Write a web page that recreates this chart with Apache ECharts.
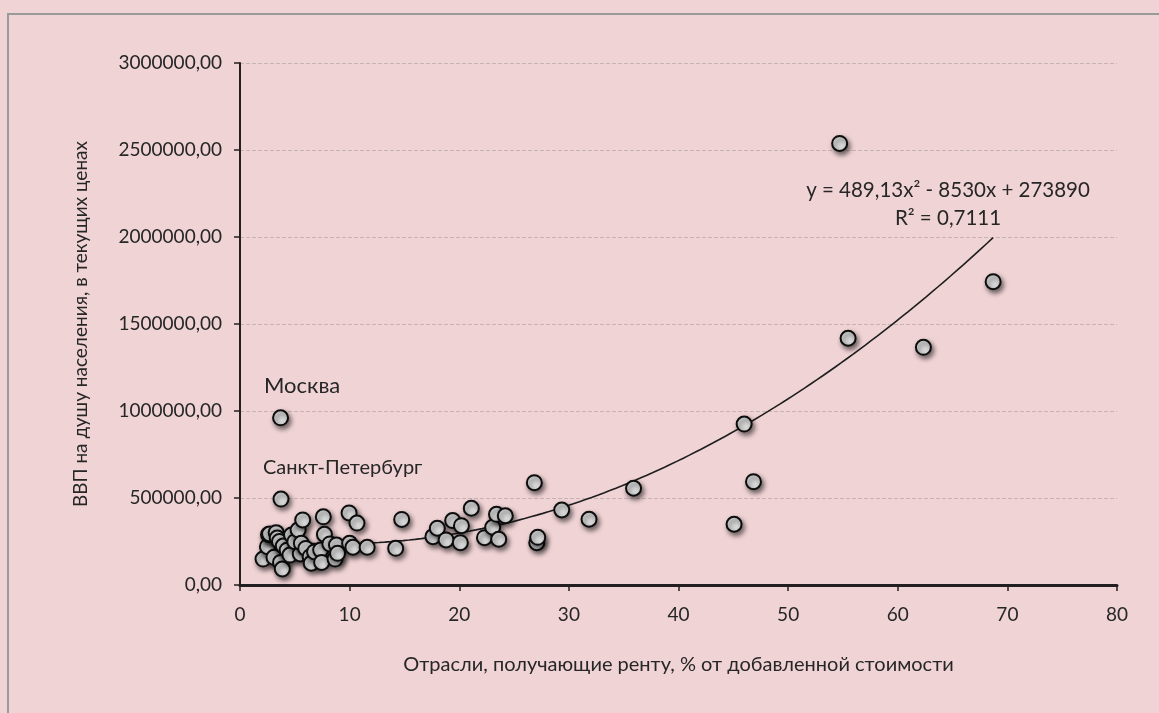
<!DOCTYPE html>
<html>
<head>
<meta charset="utf-8">
<script src="https://cdn.jsdelivr.net/npm/echarts@6/dist/echarts.min.js"></script>
<style>
  html, body { margin: 0; padding: 0; background: #f0d3d5; }
  #chart { width: 1159px; height: 713px; }
</style>
</head>
<body>
<div id="chart"></div>
<script>
// доля рентных отраслей, % (ось X)
const rentShare = [
  2.1, 2.5, 2.6, 2.7, 3.1, 3.3, 3.4, 3.6, 3.7, 3.86, 3.95, 4.3, 4.56, 4.7, 5.0, 5.3, 5.5, 5.6, 5.72,
  6.0, 6.4, 6.5, 6.8, 7.36, 7.45, 7.6, 7.7, 8.2, 8.67, 8.8, 8.9, 9.95, 10.0, 10.3, 10.67, 11.6,
  14.2, 14.75, 3.7, 3.74,
  17.6, 18.0, 18.8, 19.4, 20.2, 20.1, 21.1, 22.3, 23.05, 23.4, 24.2, 23.6, 26.85, 27.07, 27.16,
  29.35, 31.84,
  35.9, 45.07, 45.99, 46.84, 54.7, 55.47, 62.34, 68.7
]
// ВВП на душу населения (ось Y)
const grpPerCapita = [
  149000, 220000, 290000, 293000, 159000, 301000, 270000, 250000, 130000, 92000, 224000, 200000,
  172000, 287000, 249000, 316000, 178000, 240000, 374000,
  210000, 163000, 125000, 190000, 201000, 130000, 392000, 291000, 236000, 149000, 230000, 182000,
  414000, 240000, 217000, 356000, 217000,
  211000, 377000, 961000, 494000,
  278000, 326000, 259000, 370000, 341000, 243000, 441000, 272000, 332000, 406000, 398000, 263000,
  588000, 243000, 274000, 431000, 378000,
  556000, 349000, 925000, 594000, 2538000, 1418000, 1366000, 1743000
]
// коэффициенты полиномиального тренда: a*x^2 + b*x + c
const trendCoef = [489.13, -8530, 273890]
const xTicks = [0, 10, 20, 30, 40, 50, 60, 70, 80]
const yTicks = [0, 500000, 1000000, 1500000, 2000000, 2500000, 3000000]

const FONT = "Lato, 'Open Sans', sans-serif"
const TXT = '#262626'

const points = rentShare.map((x, i) => [x, grpPerCapita[i]])

const xMin = Math.min(...rentShare)
const xMax = Math.max(...rentShare)
const trend = []
for (let i = 0; i <= 120; i++) {
  const x = xMin + (xMax - xMin) * i / 120
  trend.push([x, trendCoef[0] * x * x + trendCoef[1] * x + trendCoef[2]])
}

const chart = echarts.init(document.getElementById('chart'))

const option = {
  backgroundColor: '#f0d3d5',
  animation: false,
  textStyle: { fontFamily: FONT },
  grid: { left: 240, right: 42, top: 63, bottom: 128 },
  xAxis: {
    type: 'value',
    min: xTicks[0],
    max: xTicks[xTicks.length - 1],
    interval: 10,
    name: 'Отрасли, получающие ренту, % от добавленной стоимости',
    nameLocation: 'middle',
    nameGap: 70,
    nameMoveOverlap: false,
    nameTextStyle: { fontSize: 20, color: TXT, fontFamily: FONT },
    axisLine: { lineStyle: { color: '#231f20', width: 3 } },
    axisTick: { show: true, length: 6, lineStyle: { color: '#231f20', width: 1.5 } },
    axisLabel: { fontSize: 19, color: TXT, margin: 20, fontFamily: FONT },
    splitLine: { show: false }
  },
  yAxis: {
    type: 'value',
    min: yTicks[0],
    max: yTicks[yTicks.length - 1],
    interval: 500000,
    name: 'ВВП на душу населения, в текущих ценах',
    nameLocation: 'middle',
    nameGap: 150,
    nameMoveOverlap: false,
    nameTextStyle: { fontSize: 19, color: TXT, fontFamily: FONT },
    axisLine: { show: true, lineStyle: { color: '#231f20', width: 2 } },
    axisTick: { show: true, length: 6, lineStyle: { color: '#231f20', width: 1.5 } },
    axisLabel: {
      fontSize: 19, color: TXT, margin: 18, fontFamily: FONT,
      formatter: v => v + ',00'
    },
    splitLine: { show: true, lineStyle: { color: 'rgba(150,140,140,0.45)', type: 'dashed', width: 1 } }
  },
  graphic: [
    {
      type: 'rect', silent: true, z: -1,
      shape: { x: 8, y: 14, width: 1200, height: 800 },
      style: { fill: 'none', stroke: '#9a9a9a', lineWidth: 2 }
    },
    {
      type: 'text', left: 264, top: 375,
      style: { text: 'Москва', font: '22px ' + FONT, fill: TXT }
    },
    {
      type: 'text', left: 263, top: 458,
      style: { text: 'Санкт-Петербург', font: '20px ' + FONT, fill: TXT }
    },
    {
      type: 'text', x: 948, y: 204,
      style: {
        text: 'y = 489,13x² - 8530x + 273890\nR² = 0,7111',
        font: '20.5px ' + FONT, fill: TXT, align: 'center', verticalAlign: 'middle', lineHeight: 28
      }
    }
  ],
  series: [
    {
      type: 'line',
      data: trend,
      showSymbol: false,
      symbol: 'none',
      silent: true,
      smooth: false,
      z: 2,
      lineStyle: { color: '#1e1e1e', width: 1.6 }
    },
    {
      type: 'scatter',
      data: points,
      symbol: 'circle',
      symbolSize: 15,
      z: 3,
      itemStyle: {
        color: '#d9d9d9',
        borderColor: '#0d0d0d',
        borderWidth: 2,
        shadowBlur: 5,
        shadowColor: 'rgba(0,0,0,0.55)',
        shadowOffsetX: 2,
        shadowOffsetY: 3,
        opacity: 1
      }
    }
  ]
}

chart.setOption(option)
</script>
</body>
</html>
